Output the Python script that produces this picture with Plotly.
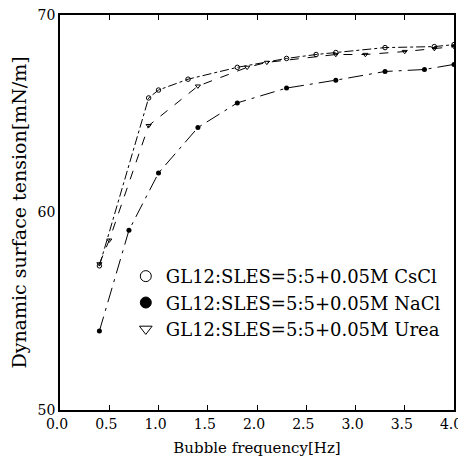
import plotly.graph_objects as go

# Data
cscl_x = [0.4, 0.9, 1.0, 1.3, 1.8, 2.3, 2.6, 2.8, 3.3, 3.8, 4.0]
cscl_y = [57.3, 65.8, 66.2, 66.75, 67.35, 67.8, 68.0, 68.1, 68.35, 68.4, 68.5]

nacl_x = [0.4, 0.7, 1.0, 1.4, 1.8, 2.3, 2.8, 3.3, 3.7, 4.0]
nacl_y = [54.0, 59.1, 62.0, 64.3, 65.55, 66.3, 66.7, 67.14, 67.24, 67.5]

urea_x = [0.4, 0.5, 0.9, 1.4, 1.9, 2.1, 2.8, 3.1, 3.5, 3.8, 4.0]
urea_y = [57.4, 58.6, 64.4, 66.4, 67.35, 67.6, 68.0, 68.0, 68.15, 68.3, 68.4]

legend_names = [
    "GL12:SLES=5:5+0.05M CsCl",
    "GL12:SLES=5:5+0.05M NaCl",
    "GL12:SLES=5:5+0.05M Urea",
]

x_ticks = [0.0, 0.5, 1.0, 1.5, 2.0, 2.5, 3.0, 3.5, 4.0]
y_ticks = [50, 60, 70]

FONT = "DejaVu Serif"

fig = go.Figure()

fig.add_trace(go.Scatter(
    x=cscl_x, y=cscl_y, mode="lines+markers", showlegend=False,
    line=dict(color="black", width=1, dash="dashdot"),
    marker=dict(symbol="circle-open", size=4.5, color="black", line=dict(width=1)),
))
fig.add_trace(go.Scatter(
    x=nacl_x, y=nacl_y, mode="lines+markers", showlegend=False,
    line=dict(color="black", width=1, dash="longdashdot"),
    marker=dict(symbol="circle", size=5, color="black"),
))
fig.add_trace(go.Scatter(
    x=urea_x, y=urea_y, mode="lines+markers", showlegend=False,
    line=dict(color="black", width=1, dash="dash"),
    marker=dict(symbol="triangle-down-open", size=4.5, color="black", line=dict(width=1)),
))

# legend-only entries (larger symbols, no line)
for name, sym in zip(legend_names, ["circle-open", "circle", "triangle-down-open"]):
    fig.add_trace(go.Scatter(
        x=[None], y=[None], mode="markers", name=name,
        marker=dict(symbol=sym, size=11, color="black", line=dict(width=1, color="black")),
    ))

# page body has an 8px default margin, so the figure is sized/offset for it
fig.update_layout(
    width=458, height=453,
    margin=dict(l=52, r=12, t=7, b=51, autoexpand=False),
    paper_bgcolor="white", plot_bgcolor="white",
    font=dict(family=FONT, size=15, color="black"),
    legend=dict(x=0.167, y=0.385, xanchor="left", yanchor="top",
                bgcolor="rgba(0,0,0,0)", font=dict(family=FONT, size=18),
                itemwidth=30, tracegroupgap=0),
    xaxis=dict(
        range=[0, 4], tickvals=x_ticks, ticktext=[f"{v:.1f}" for v in x_ticks],
        ticks="inside", ticklen=5, tickcolor="black", mirror="ticks",
        showline=True, linecolor="black", linewidth=1.5, showgrid=False, zeroline=False,
        automargin=False, ticklabeloverflow="allow", ticklabelshift=-3,
        title=dict(text="Bubble frequency[Hz]", standoff=12, font=dict(size=15)),
        tickfont=dict(size=14),
    ),
    yaxis=dict(
        range=[50, 70], tickvals=y_ticks, ticks="", mirror=True,
        showline=True, linecolor="black", linewidth=1.5, showgrid=False, zeroline=False,
        automargin=False, ticklabeloverflow="allow",
        title=dict(text="Dynamic surface tension[mN/m]", standoff=6, font=dict(size=19)),
        tickfont=dict(size=14),
    ),
)

fig.write_html("out.html")
